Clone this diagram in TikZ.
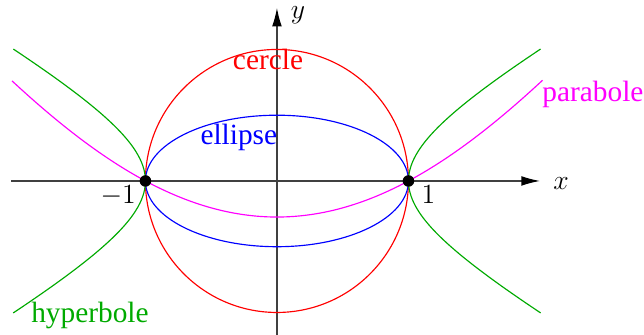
\documentclass[tikz,border=0pt]{standalone}
\usepackage{fontspec}
\newfontfamily\tms{Liberation Serif}
\usetikzlibrary{arrows.meta}
\definecolor{hgreen}{RGB}{0,170,0}
\definecolor{hmag}{RGB}{255,0,255}
\begin{document}
\begin{tikzpicture}[x=2cm,y=2cm,
  axis/.style={draw=black!75,line width=0.5pt,-{Latex[length=8pt,width=4.2pt,fill=black,color=black]}},
  curve/.style={line width=0.5pt},
  lbl/.style={font=\fontsize{12.7}{15}\selectfont\tms,anchor=base,inner sep=0pt},
  mlbl/.style={font=\fontsize{12.7}{15}\selectfont,anchor=base,inner sep=0pt},
  dot/.style={circle,fill=black,inner sep=0pt,minimum size=5pt}]
\useasboundingbox (-2.106,-1.171) rectangle (2.791,1.376);
% axes
\coordinate (xs) at (-2.02,0);
\coordinate (xe) at (2.0,0);
\coordinate (ys) at (0,-1.171);
\coordinate (ye) at (0,1.316);
\draw[axis] (xs) -- (xe);
\draw[axis] (ys) -- (ye);
% curves
\draw[curve,red] (0,0) circle (1);
\draw[curve,blue] (0,0) ellipse (1 and 0.5);
\draw[curve,hmag] plot[domain=-2.015:2.02,samples=80,smooth] (\x,{0.268*(\x*\x-1)-0.0063*(\x*\x-1)*(\x*\x-1)});
\draw[curve,hgreen] plot[domain=-1.32:1.32,samples=60,smooth] ({cosh(\x)},{sinh(\x)/sqrt(3)});
\draw[curve,hgreen] plot[domain=-1.32:1.32,samples=60,smooth] ({-cosh(\x)},{sinh(\x)/sqrt(3)});
% points
\node[dot] (pm) at (-1,0) {};
\node[dot] (pp) at (1,0) {};
% labels
\node[lbl,red] (lc) at (-0.068,0.849) {cercle};
\node[lbl,blue] (le) at (-0.29,0.281) {ellipse};
\node[lbl,hmag] (lp) at (2.403,0.603) {parabole};
\node[lbl,hgreen] (lh) at (-1.422,-1.08) {hyperbole};
\node[mlbl] (lx) at (2.16,-0.068) {$x$};
\node[mlbl] (ly) at (0.16,1.232) {$y$};
\node[mlbl] (lm1) at (-1.207,-0.175) {$-1$};
\node[mlbl] (l1) at (1.152,-0.17) {$1$};
\end{tikzpicture}
\end{document}
